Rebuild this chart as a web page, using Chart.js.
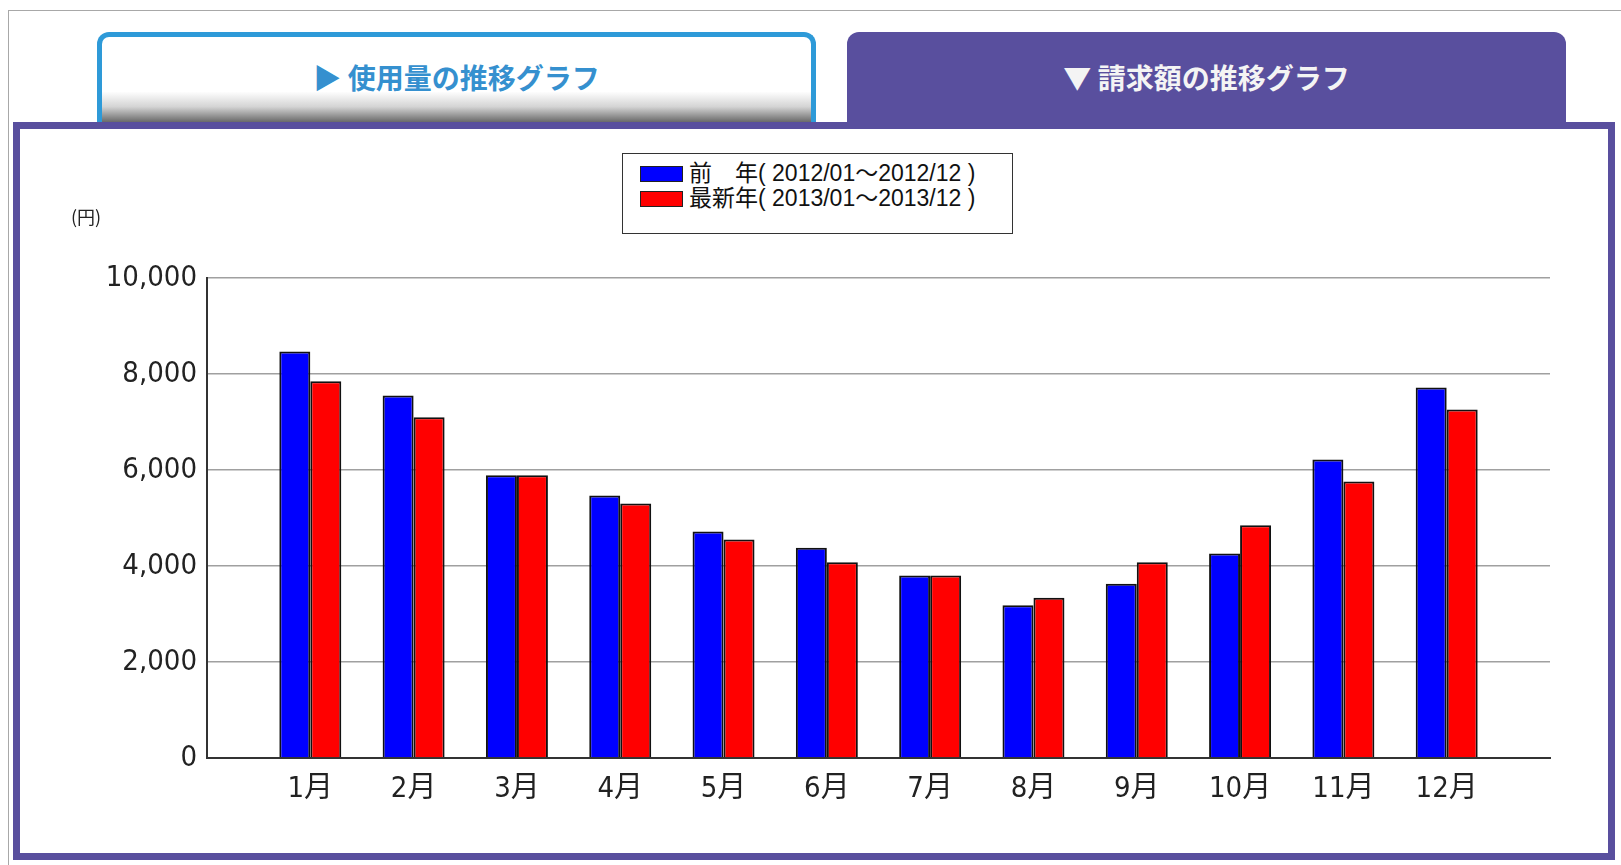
<!DOCTYPE html>
<html lang="ja">
<head>
<meta charset="utf-8">
<title>請求額の推移グラフ</title>
<script src="https://cdn.jsdelivr.net/npm/chart.js@4.4.1/dist/chart.umd.min.js"></script>
<style>
    html, body { margin: 0; padding: 0; background: #fff; }
    body { width: 1621px; height: 865px; position: relative; overflow: hidden;
           font-family: "Noto Sans CJK JP", sans-serif; }
    .outer { position: absolute; left: 8px; top: 10px; width: 1640px; height: 900px;
             border: 1.5px solid #a8a8a8; }
    .tab { position: absolute; top: 32px; width: 719px; box-sizing: border-box;
           border-radius: 12px 12px 0 0; text-align: center; font-weight: bold;
           font-size: 28px; }
    .tab-usage { left: 97px; height: 90px; border: 5px solid #2e9ad8; border-bottom: none;
                 color: #3590cf; line-height: 80px;
                 background: linear-gradient(to bottom, #fff 0%, #fff 64%, #d4d4d4 82%, #6a6a6a 100%); }
    .tab-bill { left: 847px; height: 96px; background: #594f9e; color: #f4f4f4; line-height: 90px; }
    .panel { position: absolute; left: 13px; top: 122px; width: 1602px; height: 738px;
             box-sizing: border-box; border: 7px solid #594f9e; background: #fff; }
    .chart-box { position: absolute; left: 0; top: 0; width: 1588px; height: 724px; }
    .unit { position: absolute; left: 71px; top: 203px; font-size: 18px; color: #222; }
    .legend { position: absolute; left: 622px; top: 153px; width: 391px; height: 81px;
              box-sizing: border-box; border: 1.5px solid #333; background: #fff;
              padding: 7px 0 0 17px; font-family: "Liberation Sans", "Noto Sans CJK JP", sans-serif;
              font-size: 23px; color: #111; }
    .legend div { height: 25px; line-height: 25px; display: flex; align-items: center; }
    .legend span.sw { display: inline-block; width: 43px; height: 16px; box-sizing: border-box;
                      border: 1px solid #222; margin-right: 6px; }
</style>
</head>
<body>
<div class="outer"></div>
<div class="tab tab-usage">▶ 使用量の推移グラフ</div>
<div class="tab tab-bill">▼ 請求額の推移グラフ</div>
<div class="panel">
    <div class="chart-box"><canvas id="billChart"></canvas></div>
</div>
<div class="unit">(円)</div>
<div class="legend" id="legend"></div>

<script>
// 月別の請求額（円）
const categories = ['1月', '2月', '3月', '4月', '5月', '6月', '7月', '8月', '9月', '10月', '11月', '12月'];
const prevYear = [8470, 7550, 5890, 5470, 4720, 4380, 3800, 3180, 3630, 4260, 6220, 7720];
const latestYear = [7850, 7100, 5890, 5300, 4550, 4080, 3800, 3340, 4080, 4850, 5760, 7260];
const seriesLabels = ['前　年( 2012/01～2012/12 )', '最新年( 2013/01～2013/12 )'];
const yTicks = [0, 2000, 4000, 6000, 8000, 10000];

// 軸の両端に半区間ずつ余白を作るため、前後に空のラベルを置く
const labels = [''].concat(categories, ['']);
const pad = arr => [null].concat(arr, [null]);

const tickFont = { family: "'DejaVu Sans Condensed', 'Liberation Sans Narrow', 'Noto Sans CJK JP', sans-serif", size: 29 };

const chart = new Chart(document.getElementById('billChart'), {
    type: 'bar',
    data: {
        labels: labels,
        datasets: [{
            label: seriesLabels[0],
            data: pad(prevYear),
            backgroundColor: '#0000ff',
            borderColor: '#111',
            borderWidth: 2
        }, {
            label: seriesLabels[1],
            data: pad(latestYear),
            backgroundColor: '#ff0000',
            borderColor: '#111',
            borderWidth: 2
        }]
    },
    options: {
        responsive: true,
        maintainAspectRatio: false,
        animation: false,
        layout: { padding: { left: 0, right: 58, top: 149, bottom: 35 } },
        datasets: { bar: { categoryPercentage: 0.6, barPercentage: 1.0 } },
        plugins: {
            legend: { display: false },
            tooltip: { enabled: false }
        },
        scales: {
            x: {
                offset: false,
                grid: { display: false, drawTicks: false },
                border: { color: '#333', width: 2 },
                ticks: { color: '#222', font: tickFont, padding: 14, autoSkip: false, maxRotation: 0 },
                afterFit: s => { s.height = 60; }
            },
            y: {
                min: 0,
                max: 10000,
                afterBuildTicks: s => { s.ticks = yTicks.map(v => ({ value: v })); },
                grid: { color: '#a0a0a0', lineWidth: 1.5, drawTicks: false },
                border: { color: '#333', width: 2 },
                ticks: {
                    color: '#222', font: tickFont, padding: 10,
                    callback: v => v.toLocaleString('en-US')
                },
                afterFit: s => { s.width = 187; }
            }
        }
    }
});

// 枠付きの凡例
const legendEl = document.getElementById('legend');
chart.data.datasets.forEach(ds => {
    const row = document.createElement('div');
    const sw = document.createElement('span');
    sw.className = 'sw';
    sw.style.background = ds.backgroundColor;
    row.appendChild(sw);
    row.appendChild(document.createTextNode(ds.label));
    legendEl.appendChild(row);
});
</script>
</body>
</html>
